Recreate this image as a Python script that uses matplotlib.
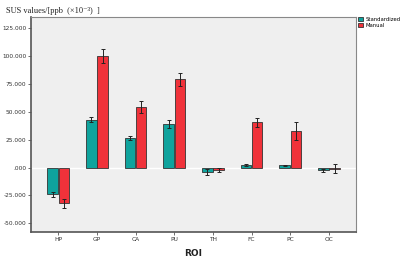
import matplotlib.pyplot as plt
import numpy as np

rois = ["HP", "GP", "CA", "PU", "TH", "FC", "PC", "OC"]
std_vals = [-24, 43, 26.5, 39, -4, 2, 2, -2.5]
std_err = [2.5, 2.5, 2, 3.5, 2.5, 1, 0.7, 1.5]
man_vals = [-32, 100, 54.5, 79, -2, 40.5, 33, -1]
man_err = [4, 6.5, 5.5, 5.5, 2, 4, 8, 4]
yticks = [-50, -25, 0, 25, 50, 75, 100, 125]
ytick_labels = ["-50.000", "-25.000", ".000", "25.000", "50.000", "75.000", "100.000", "125.000"]

teal = "#0fa39d"
red = "#f0323a"

fig = plt.figure(figsize=(4, 2.58), dpi=100)
ax = fig.add_axes([0.078, 0.1, 0.812, 0.834])
ax.set_facecolor("#efefef")

x = np.arange(len(rois))
w = 0.27
ax.axhline(0, color="white", lw=1, zorder=1)
ax.bar(x - w / 2 - 0.01, std_vals, w, color=teal, edgecolor="#333333", lw=0.6, zorder=2, label="Standardized")
ax.bar(x + w / 2 + 0.01, man_vals, w, color=red, edgecolor="#333333", lw=0.6, zorder=2, label="Manual")
ax.errorbar(x - w / 2 - 0.01, std_vals, yerr=std_err, fmt="none", ecolor="#222222", elinewidth=0.7, capsize=1.5, capthick=0.7, zorder=3)
ax.errorbar(x + w / 2 + 0.01, man_vals, yerr=man_err, fmt="none", ecolor="#222222", elinewidth=0.7, capsize=1.5, capthick=0.7, zorder=3)

ax.set_xlim(-0.7, 7.7)
ax.set_ylim(-58, 135)
ax.set_xticks(x)
ax.set_xticklabels(rois, fontsize=4.2, color="#333333")
ax.set_yticks(yticks)
ax.set_yticklabels(ytick_labels, fontsize=4.2, color="#333333")
ax.tick_params(length=2, width=0.5, color="#333333", pad=1.5)

for s in ["left", "bottom"]:
    ax.spines[s].set_color("#555555")
    ax.spines[s].set_linewidth(1.2)
for s in ["top", "right"]:
    ax.spines[s].set_color("#888888")
    ax.spines[s].set_linewidth(0.8)

ax.set_xlabel("ROI", fontsize=6.5, fontweight="bold", labelpad=5, color="#222222")
fig.text(0.015, 0.948, "SUS values/[ppb  (×10⁻³)  ]", fontsize=6,
         family=["Liberation Serif", "DejaVu Serif", "DejaVu Sans"], color="#222222")

fig.legend(loc="upper left", bbox_to_anchor=(0.887, 0.95), fontsize=3.8, frameon=False,
           handlelength=0.9, handleheight=0.9, handletextpad=0.4, labelspacing=0.2, borderpad=0.2)

fig.savefig("out.png", dpi=100)
